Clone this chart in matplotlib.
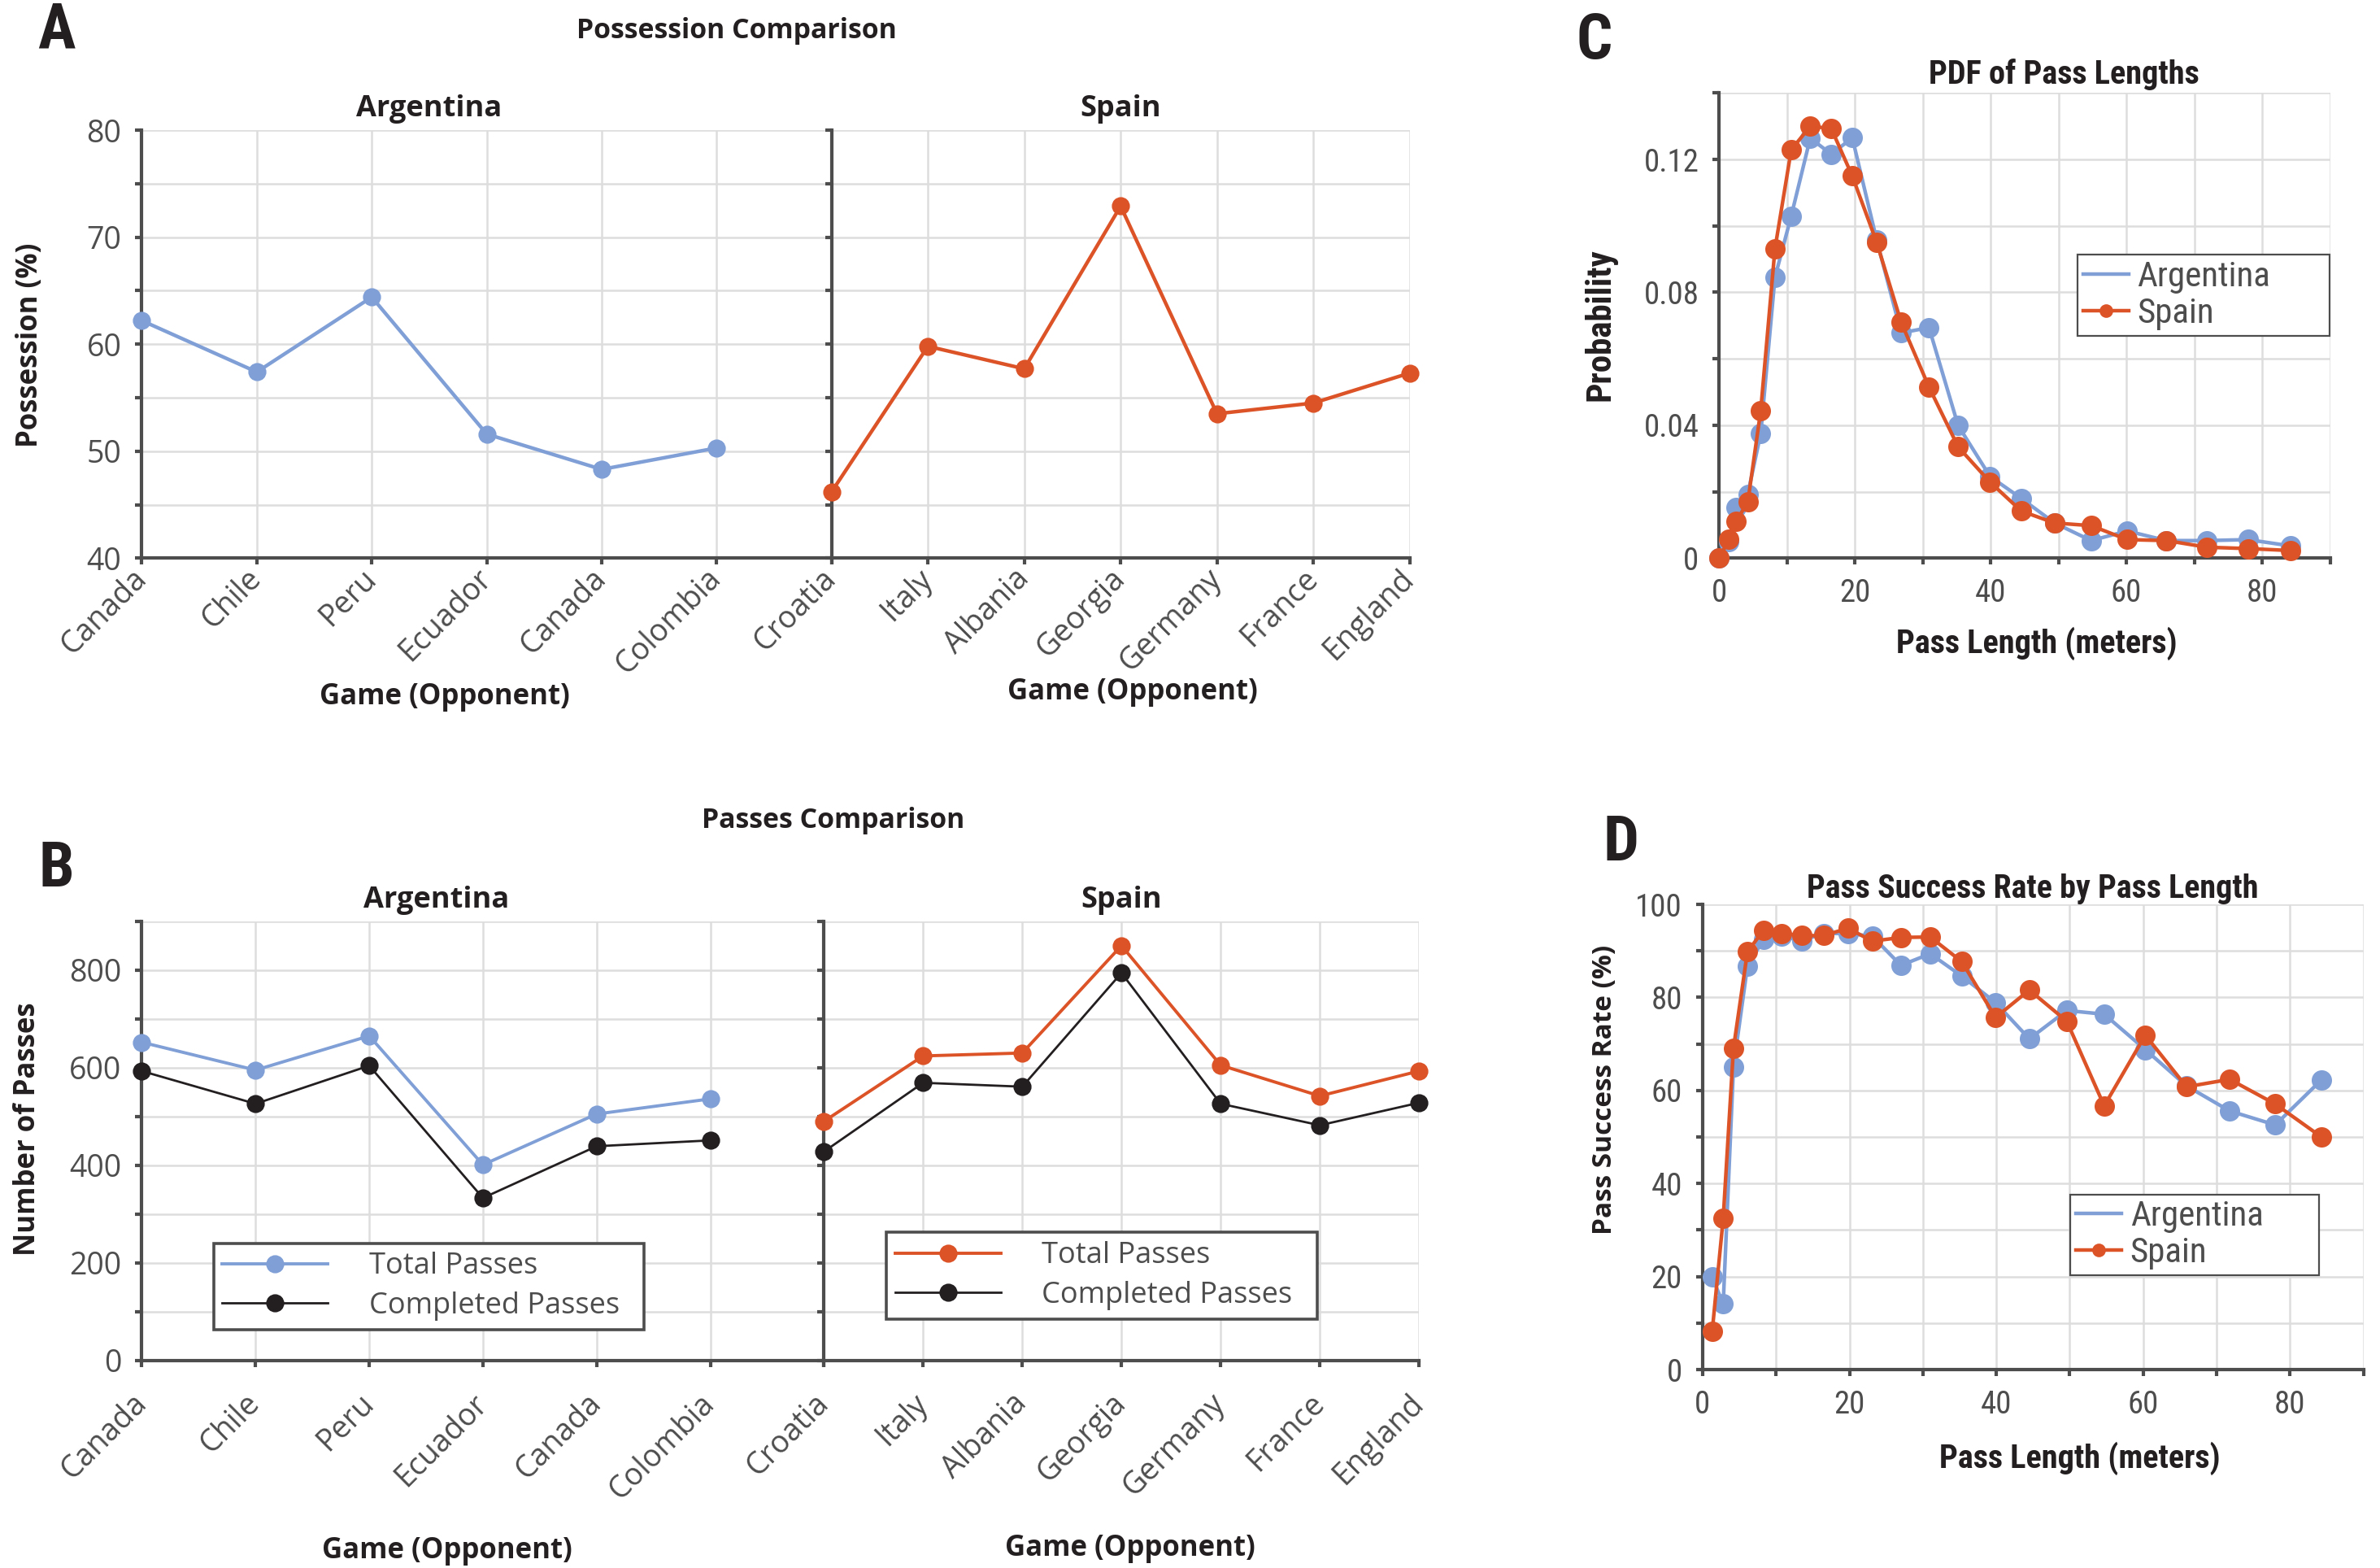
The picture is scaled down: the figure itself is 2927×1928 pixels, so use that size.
import numpy as np
import matplotlib
matplotlib.use("Agg")
import matplotlib.pyplot as plt
from matplotlib import font_manager
from matplotlib.lines import Line2D
from matplotlib.ticker import MultipleLocator, FixedLocator

# ---- data ----
arg_games = ['Canada', 'Chile', 'Peru', 'Ecuador', 'Canada', 'Colombia']
spa_games = ['Croatia', 'Italy', 'Albania', 'Georgia', 'Germany', 'France', 'England']

arg_possession = [62.2, 57.4, 64.4, 51.6, 48.3, 50.3]
spa_possession = [46.2, 59.8, 57.7, 72.9, 53.5, 54.5, 57.3]

arg_total = [652, 595, 665, 401, 505, 536]
arg_completed = [593, 526, 604, 333, 439, 451]
spa_total = [490, 624, 630, 850, 605, 542, 593]
spa_completed = [428, 569, 561, 794, 526, 482, 528]

pdf_len = [0, 1.4, 2.5, 4.2, 6.1, 8.2, 10.6, 13.4, 16.5, 19.6, 23.2, 26.8,
           30.9, 35.2, 39.9, 44.5, 49.4, 54.8, 60.1, 65.9, 71.9, 77.9, 84.2]
pdf_arg = [0.0, 0.0049, 0.0152, 0.0193, 0.0375, 0.0845, 0.103, 0.1264, 0.1216,
           0.1265, 0.0957, 0.0678, 0.0694, 0.0399, 0.0246, 0.018, 0.0106,
           0.0053, 0.0082, 0.0053, 0.0053, 0.0056, 0.0037]
pdf_spa = [0.0, 0.0056, 0.0112, 0.0169, 0.0444, 0.0931, 0.1229, 0.130, 0.1293,
           0.115, 0.095, 0.071, 0.0515, 0.0335, 0.0229, 0.0142, 0.0106,
           0.0098, 0.0056, 0.0053, 0.0033, 0.0029, 0.0023]

rate_len = [1.3, 2.8, 4.2, 6.1, 8.3, 10.7, 13.5, 16.5, 19.8, 23.1, 27.0, 31.0,
            35.3, 39.9, 44.5, 49.6, 54.7, 60.3, 65.9, 71.8, 78.0, 84.3]
rate_arg = [19.9, 14.1, 65.1, 86.7, 92.5, 93.2, 92.2, 93.8, 93.7, 93.2, 86.9,
            89.4, 84.6, 78.9, 71.1, 77.2, 76.4, 68.8, 61.0, 55.6, 52.6, 62.3]
rate_spa = [8.2, 32.5, 69.1, 89.8, 94.5, 93.8, 93.3, 93.3, 94.9, 92.1, 92.9,
            93.0, 87.7, 75.7, 81.6, 74.9, 56.7, 71.9, 60.8, 62.4, 57.1, 50.0]

BLUE = '#7F9FD6'
RED = '#DC5328'
BLACK = '#231F20'
SPINE = '#4D4D4D'
GRID = '#DDDDDD'

names = {f.name for f in font_manager.fontManager.ttflist}
WIDE = 'Open Sans' if 'Open Sans' in names else 'DejaVu Sans'
NARROW = 'Lato'
for cand in ['Liberation Sans Narrow', 'Roboto Condensed', 'Open Sans Condensed', 'Lato']:
    if cand in names:
        NARROW = cand
        break
plt.rcParams['font.family'] = WIDE

fig = plt.figure(figsize=(2927 / 200, 1928 / 200), dpi=200)


def style_axes(ax, family, tick_size, show_ylabels=True):
    for s in ['top', 'right']:
        ax.spines[s].set_visible(False)
    for s in ['left', 'bottom']:
        ax.spines[s].set_color(SPINE)
        ax.spines[s].set_linewidth(1.5)
    ax.grid(True, which='both', color=GRID, linewidth=0.9)
    ax.set_axisbelow(True)
    ax.tick_params(which='both', direction='out', color=SPINE, width=1.5,
                   length=3, labelsize=tick_size, labelcolor=SPINE, pad=6)
    if not show_ylabels:
        ax.tick_params(axis='y', labelleft=False)
    for lab in ax.get_xticklabels() + ax.get_yticklabels():
        lab.set_family(family)


def game_axes(rect, games, show_ylabels):
    ax = fig.add_axes(rect)
    ax.set_xlim(0, 6)
    ax.set_xticks(range(len(games)))
    ax.xaxis.set_minor_locator(FixedLocator([6]))
    ax.tick_params(axis='x', which='minor', length=0)
    ax.set_xticklabels(games, rotation=45, ha='right', va='center', rotation_mode='anchor')
    style_axes(ax, WIDE, 13.5, show_ylabels)
    return ax


def boxed_legend(ax, handles, labels, x0, top, width, height, **kw):
    leg = ax.legend(handles, labels, loc='upper left', mode='expand',
                    bbox_to_anchor=(x0, top - height, width, height),
                    bbox_transform=fig.transFigure, fancybox=False, framealpha=1,
                    borderaxespad=0, **kw)
    leg.get_frame().set_edgecolor(SPINE)
    for t in leg.get_texts():
        t.set_color(SPINE)
    return leg


# ---------------- A: possession ----------------
axA1 = game_axes([0.0596, 0.644, 0.2898, 0.273], arg_games, True)
axA2 = game_axes([0.3494, 0.644, 0.2429, 0.273], spa_games, False)
for ax in (axA1, axA2):
    ax.set_ylim(40, 80)
    ax.yaxis.set_major_locator(MultipleLocator(10))
    ax.yaxis.set_minor_locator(MultipleLocator(5))
    ax.tick_params(axis='x', pad=4)
axA1.plot(range(len(arg_games)), arg_possession, '-o', color=BLUE, lw=1.6, ms=7, clip_on=False, zorder=3)
axA2.plot(range(len(spa_games)), spa_possession, '-o', color=RED, lw=1.6, ms=7, clip_on=False, zorder=3)
axA1.set_title('Argentina', fontsize=13, fontweight='bold', color=BLACK, pad=6, x=0.416)
axA2.set_title('Spain', fontsize=13, fontweight='bold', color=BLACK, pad=6)
fig.text(0.0128, 0.78, 'Possession (%)', rotation=90, ha='center', va='center',
         fontsize=12.5, fontweight='bold', color=BLACK)
fig.text(0.187, 0.5555, 'Game (Opponent)', ha='center', va='center', fontsize=12.5, fontweight='bold', color=BLACK)
fig.text(0.476, 0.5584, 'Game (Opponent)', ha='center', va='center', fontsize=12.5, fontweight='bold', color=BLACK)
fig.text(0.3096, 0.9805, 'Possession Comparison', ha='center', va='center', fontsize=12.2, fontweight='bold', color=BLACK)
fig.text(0.0237, 0.9805, 'A', ha='center', va='center', fontsize=28, fontweight='bold', color=BLACK, family=NARROW)

# ---------------- B: passes ----------------
axB1 = game_axes([0.0596, 0.1323, 0.2866, 0.2802], arg_games, True)
axB2 = game_axes([0.3462, 0.1323, 0.2500, 0.2802], spa_games, False)
for ax in (axB1, axB2):
    ax.set_ylim(0, 900)
    ax.yaxis.set_major_locator(FixedLocator([0, 200, 400, 600, 800]))
    ax.yaxis.set_minor_locator(FixedLocator([100, 300, 500, 700, 900]))
    ax.tick_params(axis='x', pad=14)
hB1 = axB1.plot(range(len(arg_games)), arg_total, '-o', color=BLUE, lw=1.4, ms=7, clip_on=False, zorder=3)
hB1 += axB1.plot(range(len(arg_games)), arg_completed, '-o', color=BLACK, lw=1.0, ms=7, clip_on=False, zorder=3)
hB2 = axB2.plot(range(len(spa_games)), spa_total, '-o', color=RED, lw=1.4, ms=7, clip_on=False, zorder=3)
hB2 += axB2.plot(range(len(spa_games)), spa_completed, '-o', color=BLACK, lw=1.0, ms=7, clip_on=False, zorder=3)
axB1.set_title('Argentina', fontsize=13, fontweight='bold', color=BLACK, pad=6, x=0.432)
axB2.set_title('Spain', fontsize=13, fontweight='bold', color=BLACK, pad=6)
pass_labels = ['Total Passes', 'Completed Passes']
for ax, h, x0, top in ((axB1, hB1, 0.0897, 0.2072), (axB2, hB2, 0.3724, 0.214)):
    leg = boxed_legend(ax, h, pass_labels, x0, top, 0.181, 0.056, fontsize=13,
                       handlelength=3.6, handletextpad=1.4, borderpad=0.3, labelspacing=0.35)
    leg.get_frame().set_linewidth(1.3)
fig.text(0.0115, 0.28, 'Number of Passes', rotation=90, ha='center', va='center',
         fontsize=12.5, fontweight='bold', color=BLACK)
fig.text(0.1878, 0.0107, 'Game (Opponent)', ha='center', va='center', fontsize=12.5, fontweight='bold', color=BLACK)
fig.text(0.475, 0.0126, 'Game (Opponent)', ha='center', va='center', fontsize=12.5, fontweight='bold', color=BLACK)
fig.text(0.35, 0.4767, 'Passes Comparison', ha='center', va='center', fontsize=12.2, fontweight='bold', color=BLACK)
fig.text(0.0237, 0.4455, 'B', ha='center', va='center', fontsize=28, fontweight='bold', color=BLACK, family=NARROW)


def length_axes(rect):
    ax = fig.add_axes(rect)
    ax.set_xlim(0, 90)
    ax.xaxis.set_major_locator(MultipleLocator(20))
    ax.xaxis.set_minor_locator(FixedLocator([10, 30, 50, 70, 90]))
    return ax


def length_legend(ax, x0, top, width):
    handles = [Line2D([], [], color=BLUE, lw=1.6),
               Line2D([], [], color=RED, lw=1.6, marker='o', ms=5)]
    leg = boxed_legend(ax, handles, ['Argentina', 'Spain'], x0, top, width, 0.048,
                       prop={'family': NARROW, 'size': 15.5}, handlelength=1.3,
                       handletextpad=0.25, borderpad=0.15, labelspacing=0.1)
    leg.get_frame().set_linewidth(0.8)


# ---------------- C: PDF ----------------
axC = length_axes([0.7224, 0.644, 0.2566, 0.2967])
axC.set_ylim(0, 0.14)
axC.yaxis.set_major_locator(FixedLocator([0, 0.04, 0.08, 0.12]))
axC.yaxis.set_minor_locator(FixedLocator([0.02, 0.06, 0.10, 0.14]))
axC.set_yticklabels(['0', '0.04', '0.08', '0.12'])
axC.plot(pdf_len, pdf_arg, '-o', color=BLUE, lw=1.6, ms=8, clip_on=False, zorder=3)
axC.plot(pdf_len, pdf_spa, '-o', color=RED, lw=1.6, ms=8, clip_on=False, zorder=4)
style_axes(axC, NARROW, 14)
axC.tick_params(axis='x', pad=6)
axC.set_title('PDF of Pass Lengths', fontsize=14.5, fontweight='bold', color=BLACK, family=NARROW,
              pad=4, x=0.565)
length_legend(axC, 0.873, 0.8375, 0.1058)
fig.text(0.6724, 0.793, 'Probability', rotation=90, ha='center', va='center',
         fontsize=15.5, fontweight='bold', color=BLACK, family=NARROW)
fig.text(0.8558, 0.5895, 'Pass Length (meters)', ha='center', va='center', fontsize=14.5,
         fontweight='bold', color=BLACK, family=NARROW)
fig.text(0.67, 0.9737, 'C', ha='center', va='center', fontsize=28, fontweight='bold', color=BLACK, family=NARROW)

# ---------------- D: success rate ----------------
axD = length_axes([0.7154, 0.1265, 0.2776, 0.2967])
axD.set_ylim(0, 100)
axD.yaxis.set_major_locator(MultipleLocator(20))
axD.yaxis.set_minor_locator(FixedLocator([10, 30, 50, 70, 90]))
axD.plot(rate_len, rate_arg, '-o', color=BLUE, lw=1.6, ms=8, clip_on=False, zorder=3)
axD.plot(rate_len, rate_spa, '-o', color=RED, lw=1.6, ms=8, clip_on=False, zorder=4)
style_axes(axD, NARROW, 14)
axD.tick_params(axis='x', pad=6)
axD.set_title('Pass Success Rate by Pass Length', fontsize=14.4, fontweight='bold', color=BLACK,
              family=NARROW, pad=2)
length_legend(axD, 0.87, 0.2383, 0.1045)
fig.text(0.6744, 0.305, 'Pass Success Rate (%)', rotation=90, ha='center', va='center',
         fontsize=12, fontweight='bold', color=BLACK)
fig.text(0.874, 0.07, 'Pass Length (meters)', ha='center', va='center', fontsize=14.5,
         fontweight='bold', color=BLACK, family=NARROW)
fig.text(0.681, 0.462, 'D', ha='center', va='center', fontsize=28, fontweight='bold', color=BLACK, family=NARROW)

fig.savefig('out.png', dpi=200)
